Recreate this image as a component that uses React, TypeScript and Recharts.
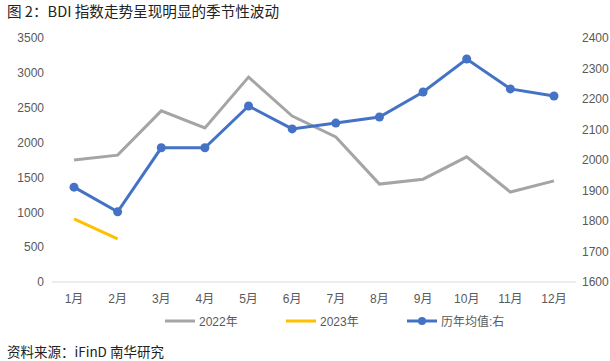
import React from 'react';
import { LineChart, Line, XAxis, YAxis, Legend } from 'recharts';

const months = ['1月', '2月', '3月', '4月', '5月', '6月', '7月', '8月', '9月', '10月', '11月', '12月'];
const y2022 = [1750, 1820, 2455, 2210, 2940, 2380, 2080, 1405, 1475, 1795, 1290, 1450];
const y2023: (number | null)[] = [905, 620, null, null, null, null, null, null, null, null, null, null];
const avgRight = [1911, 1830, 2040, 2040, 2177, 2102, 2121, 2141, 2223, 2331, 2233, 2210];

const leftTicks = [0, 500, 1000, 1500, 2000, 2500, 3000, 3500];
const rightTicks = [1600, 1700, 1800, 1900, 2000, 2100, 2200, 2300, 2400];

const data = months.map((m, i) => ({
  month: m,
  y2022: y2022[i],
  y2023: y2023[i],
  avg: avgRight[i],
}));

const FONT = '"Liberation Sans", Arial, "Noto Sans CJK SC", sans-serif';
const TEXT = '#595959';

const legendItems = [
  { label: '2022年', color: '#a5a5a5', dot: false },
  { label: '2023年', color: '#ffc000', dot: false },
  { label: '历年均值:右', color: '#4472c4', dot: true },
];

const LegendContent = () => (
  <div style={{ display: 'flex', justifyContent: 'flex-start', paddingLeft: 164, fontFamily: FONT, fontSize: 12, color: TEXT }}>
    {legendItems.map((it) => (
      <div key={it.label} style={{ display: 'flex', alignItems: 'center', width: 121 }}>
        <svg width={32} height={10} style={{ marginRight: 3 }}>
          <line x1={1} y1={5} x2={31} y2={5} stroke={it.color} strokeWidth={3} />
          {it.dot && <circle cx={16} cy={5} r={4} fill={it.color} />}
        </svg>
        <span>{it.label}</span>
      </div>
    ))}
  </div>
);

export default function App() {
  return (
    <div style={{ position: 'absolute', left: 0, top: 0, width: 610, height: 361, background: '#fff', fontFamily: FONT }}>
      <div style={{ position: 'absolute', left: 7, top: 0, fontSize: 14.6, color: '#222', fontFamily: '"Noto Sans CJK SC", sans-serif' }}>
        图 2：BDI 指数走势呈现明显的季节性波动
      </div>
      <LineChart width={610} height={361} data={data} margin={{ top: 38, right: 0, left: 0, bottom: 29 }}>
        <XAxis
          dataKey="month"
          tickLine={false}
          axisLine={{ stroke: '#d9d9d9' }}
          tick={{ fill: TEXT, fontSize: 12, fontFamily: FONT }}
          height={30}
          interval={0}
          padding={{ left: 22, right: 22 }}
          dy={4}
        />
        <YAxis
          yAxisId="left"
          domain={[0, 3500]}
          ticks={leftTicks}
          axisLine={false}
          tickLine={false}
          width={52}
          tick={{ fill: TEXT, fontSize: 12, fontFamily: FONT }}
          dx={0}
        />
        <YAxis
          yAxisId="right"
          orientation="right"
          domain={[1600, 2400]}
          ticks={rightTicks}
          axisLine={false}
          tickLine={false}
          width={34}
          tick={{ fill: TEXT, fontSize: 12, fontFamily: FONT }}
          dx={-2}
        />
        <Line yAxisId="left" dataKey="y2022" stroke="#a5a5a5" strokeWidth={3} dot={false} isAnimationActive={false} />
        <Line yAxisId="left" dataKey="y2023" stroke="#ffc000" strokeWidth={3} dot={false} isAnimationActive={false} connectNulls={false} />
        <Line
          yAxisId="right"
          dataKey="avg"
          stroke="#4472c4"
          strokeWidth={3}
          dot={{ r: 4.5, fill: '#4472c4', stroke: '#4472c4', strokeWidth: 0 }}
          isAnimationActive={false}
        />
        <Legend verticalAlign="bottom" height={20} content={<LegendContent />} />
      </LineChart>
      <div style={{ position: 'absolute', left: 7, top: 341, fontSize: 13.5, color: '#222', fontFamily: '"Noto Sans CJK SC", sans-serif' }}>
        资料来源：iFinD  南华研究
      </div>
    </div>
  );
}
